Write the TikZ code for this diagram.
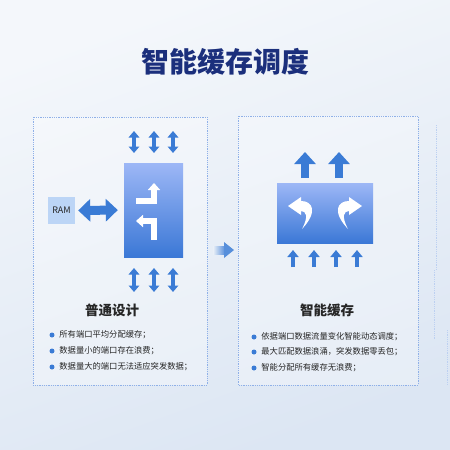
\documentclass[tikz,border=0pt]{standalone}
\usepackage{fontspec}
\setmainfont{Noto Sans CJK SC}
\usetikzlibrary{arrows.meta,positioning}
\definecolor{navy}{HTML}{1B2F7C}
\definecolor{portblue}{HTML}{3A7BD5}
\definecolor{dotblue}{HTML}{8FB0E8}
\definecolor{ramfill}{HTML}{BCD5F6}
\definecolor{boxtop}{HTML}{9DB7F6}
\definecolor{boxbot}{HTML}{3B78D6}
\definecolor{txt}{HTML}{262626}
\definecolor{bgtop}{HTML}{F4F7FB}
\definecolor{bgbot}{HTML}{DCE6F3}

\begin{document}
\begin{tikzpicture}[x=1pt,y=-1pt,
    panel/.style={draw=dotblue,densely dotted,line width=0.8pt,fill=white,fill opacity=0.3},
    gradbox/.style={draw=none,top color=boxtop,bottom color=boxbot,inner sep=0pt},
    dblarrow/.style={portblue,line width=4pt,{Triangle[width=10.5pt,length=6.5pt]}-{Triangle[width=10.5pt,length=6.5pt]}},
    bigup/.style={portblue,line width=8pt,-{Triangle[width=21pt,length=12pt]}},
    smallup/.style={portblue,line width=4pt,-{Triangle[width=11pt,length=7pt]}},
    turn/.style={white,line width=6pt,line join=miter,-{Triangle[width=12pt,length=7pt]}},
    dotb/.style={circle,fill=portblue,minimum size=5pt,inner sep=0pt},
    btext/.style={font=\fontsize{8.3}{10}\selectfont,text=txt,inner sep=0pt,anchor=west},
    ptitle/.style={font=\bfseries\fontsize{13.5}{15}\selectfont,text=black!85}]
\useasboundingbox (0,0) rectangle (450,450);
% background
\shade[top color=bgtop,bottom color=bgbot,shading angle=20] (0,0) rectangle (450,450);

\node[font=\bfseries\fontsize{28}{30}\selectfont,text=navy] (title) at (225,62) {智能缓存调度};

% panels
\draw[panel] (33,117) rectangle (207,385);
\draw[panel] (238,116) rectangle (418,385);
\draw[dotblue!60,densely dotted,line width=0.8pt] (436,125) -- (436,270);
\draw[dotblue!60,densely dotted,line width=0.8pt] (434,270) -- (434,340);
\draw[dotblue!60,densely dotted,line width=0.8pt] (447,330) -- (447,385);

% left panel
\node[fill=ramfill,minimum width=27pt,minimum height=27pt,inner sep=0pt,
      font=\fontsize{9}{10}\selectfont,text=txt] (ram) at (61.5,210.5) {RAM};
\node[gradbox,minimum width=59pt,minimum height=94pt] (core) at (153.5,210) {};
\draw[portblue,line width=9pt,{Triangle[width=22pt,length=12pt]}-{Triangle[width=22pt,length=12pt]},
      shorten <=3pt,shorten >=6pt] (ram.east) -- (core.west);
\draw[turn] (136,201) -| (154,183);
\draw[turn] (154,240) |- (136,221);
\foreach \x in {134,154,173} {
  \draw[dblarrow] (\x,131) -- (\x,153);
  \draw[dblarrow] (\x,268) -- (\x,292);
}
\node[ptitle] (t1) at (112,310) {普通设计};
\node[dotb] (a1) at (52,335) {};
\node[dotb] (a2) at (52,351) {};
\node[dotb] (a3) at (52,367) {};
\node[btext,right=4.5pt of a1] (a1t) {所有端口平均分配缓存；};
\node[btext,right=4.5pt of a2] (a2t) {数据量小的端口存在浪费；};
\node[btext,right=4.5pt of a3] (a3t) {数据量大的端口无法适应突发数据；};

% middle arrow
\shade[left color=bgbot!60!white,right color=portblue!85] (213,246) rectangle (225,254);
\fill[portblue!85] (224,242) -- (234,250) -- (224,258) -- cycle;

% right panel
\node[gradbox,minimum width=96pt,minimum height=60pt] (smart) at (325,213) {};
\foreach \x in {305,339}
  \draw[bigup] (\x,178) -- (\x,152);
\foreach \x in {293,314,336,357}
  \draw[smallup] (\x,267) -- (\x,250);
\fill[white] (288,206) -- (301,197) -- (301,201) .. controls (313,201) and (318,212) .. (302,229)
  .. controls (309,216) and (306,211) .. (301,211) -- (301,215) -- cycle;
\fill[white] (362,206) -- (349,197) -- (349,201) .. controls (337,201) and (332,212) .. (348,229)
  .. controls (341,216) and (344,211) .. (349,211) -- (349,215) -- cycle;
\node[ptitle] (t2) at (327,310) {智能缓存};
\node[dotb] (b1) at (254,337) {};
\node[dotb] (b2) at (254,352) {};
\node[dotb] (b3) at (254,368) {};
\node[btext,right=4.5pt of b1] (b1t) {依据端口数据流量变化智能动态调度；};
\node[btext,right=4.5pt of b2] (b2t) {最大匹配数据浪涌，突发数据零丢包；};
\node[btext,right=4.5pt of b3] (b3t) {智能分配所有缓存无浪费；};
\end{tikzpicture}
\end{document}
